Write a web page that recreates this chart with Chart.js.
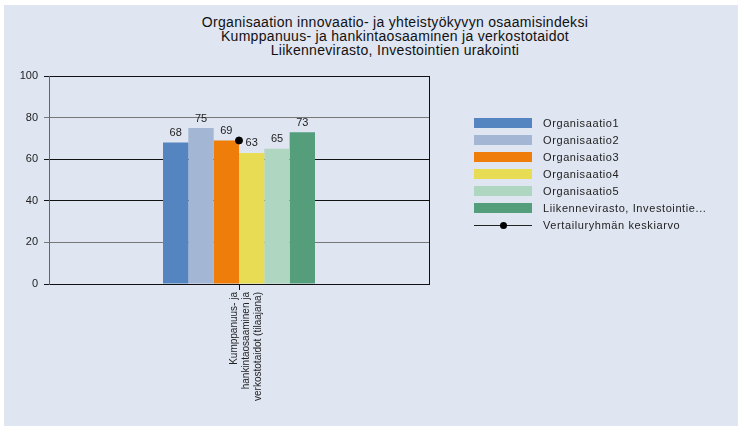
<!DOCTYPE html>
<html>
<head>
<meta charset="utf-8">
<script src="https://cdn.jsdelivr.net/npm/chart.js@4.4.1/dist/chart.umd.min.js"></script>
<style>
    body { margin: 0; background: #fff; font-family: "Liberation Sans", Arial, sans-serif; }
    #wrap { position: relative; width: 744px; height: 432px; }
    #panel { position: absolute; left: 4px; top: 5px; width: 734px; height: 421px; background: #dfe5f1; }
    #title { position: absolute; left: 165px; width: 460px; top: 15px; text-align: center; font-size: 14px; line-height: 14px; color: #111; letter-spacing: 0.3px; }
    #chartBox { position: absolute; left: 0; top: 0; width: 744px; height: 432px; }
    #legend { position: absolute; left: 474px; top: 114px; font-size: 11px; color: #222; letter-spacing: 0.6px; }
    .row { height: 17px; display: flex; align-items: center; white-space: nowrap; }
    .box { width: 58px; height: 10px; margin-right: 11px; }
    .lineKey { width: 58px; height: 10px; margin-right: 11px; position: relative; }
    .lineKey:before { content: ''; position: absolute; left: 0; right: 0; top: 5px; height: 1px; background: #222; }
    .lineKey:after { content: ''; position: absolute; left: 26px; top: 2px; width: 7px; height: 7px; border-radius: 50%; background: #000; }
</style>
</head>
<body>
<div id="wrap">
    <div id="panel"></div>
    <div id="title">
        Organisaation innovaatio- ja yhteistyökyvyn osaamisindeksi<br>
        Kumppanuus- ja hankintaosaaminen ja verkostotaidot<br>
        Liikennevirasto, Investointien urakointi
    </div>
    <div id="chartBox"><canvas id="chart"></canvas></div>
    <div id="legend"></div>
</div>
<script>
// Data
const categories = [['Kumppanuus- ja', 'hankintaosaaminen ja', 'verkostotaidot (tilaajana)']];
const seriesNames = ['Organisaatio1', 'Organisaatio2', 'Organisaatio3', 'Organisaatio4', 'Organisaatio5', 'Liikennevirasto, Investointien urakointi'];
const seriesValues = [[68], [75], [69], [63], [65], [73]];
const averageName = 'Vertailuryhmän keskiarvo';
const averageValues = [69];
const yTicks = [0, 20, 40, 60, 80, 100];

const colors = ['#5585c0', '#a3b6d3', '#ee7d0a', '#e8dc55', '#aed6c0', '#559e7c'];

// Value labels above the bars
const barLabels = {
    id: 'barLabels',
    afterDatasetsDraw(chart) {
        const ctx = chart.ctx;
        ctx.save();
        ctx.font = '11px "Liberation Sans", Arial, sans-serif';
        ctx.fillStyle = '#222';
        ctx.textAlign = 'center';
        ctx.textBaseline = 'bottom';
        chart.data.datasets.forEach((ds, i) => {
            if (ds.type === 'line') return;
            const meta = chart.getDatasetMeta(i);
            meta.data.forEach((el, j) => {
                ctx.fillText(ds.data[j], el.x, el.y - 4);
            });
        });
        ctx.restore();
    }
};

const datasets = seriesNames.map((name, i) => ({
    type: 'bar',
    label: name,
    data: seriesValues[i],
    backgroundColor: colors[i],
    categoryPercentage: 0.4,
    barPercentage: 1.0,
    order: 1
}));

datasets.push({
    type: 'line',
    label: averageName,
    data: averageValues,
    showLine: false,
    pointRadius: 3.5,
    pointBackgroundColor: '#000',
    pointBorderColor: '#000',
    order: 0
});

new Chart(document.getElementById('chart'), {
    type: 'bar',
    data: { labels: categories, datasets },
    options: {
        responsive: true,
        maintainAspectRatio: false,
        animation: false,
        layout: { padding: { left: 0, top: 76, right: 314, bottom: 8 } },
        plugins: {
            legend: { display: false },
            tooltip: { enabled: false }
        },
        scales: {
            x: {
                grid: { offset: false, drawOnChartArea: false, drawTicks: true, tickLength: 6, color: '#111' },
                border: { color: '#111' },
                ticks: {
                    minRotation: 90,
                    maxRotation: 90,
                    padding: 2,
                    labelOffset: -5,
                    color: '#222',
                    font: { family: '"Liberation Sans", Arial, sans-serif', size: 10, lineHeight: 1.2 }
                },
                afterFit(scale) { scale.height = 140; }
            },
            y: {
                min: 0,
                max: 100,
                afterBuildTicks(scale) { scale.ticks = yTicks.map(v => ({ value: v })); },
                grid: {
                    color: ctx => (ctx.tick && (ctx.tick.value === 80 || ctx.tick.value === 20)) ? '#777' : '#111',
                    tickLength: 5
                },
                border: { color: '#666' },
                ticks: {
                    padding: 6,
                    color: '#222',
                    font: { family: '"Liberation Sans", Arial, sans-serif', size: 11 }
                },
                afterFit(scale) { scale.width = 49; }
            },
            y2: {
                position: 'right',
                min: 0,
                max: 100,
                grid: { display: false },
                ticks: { display: false },
                border: { color: '#111' },
                afterFit(scale) { scale.width = 1; }
            }
        }
    },
    plugins: [barLabels]
});

// HTML legend
const legend = document.getElementById('legend');
legend.innerHTML = seriesNames.map((name, i) => {
    const shown = name.length > 29 ? name.slice(0, 29) + '...' : name;
    return `<div class="row"><div class="box" style="background:${colors[i]}"></div><span>${shown}</span></div>`;
}).join('') + `<div class="row"><div class="lineKey"></div><span>${averageName}</span></div>`;
</script>
</body>
</html>
